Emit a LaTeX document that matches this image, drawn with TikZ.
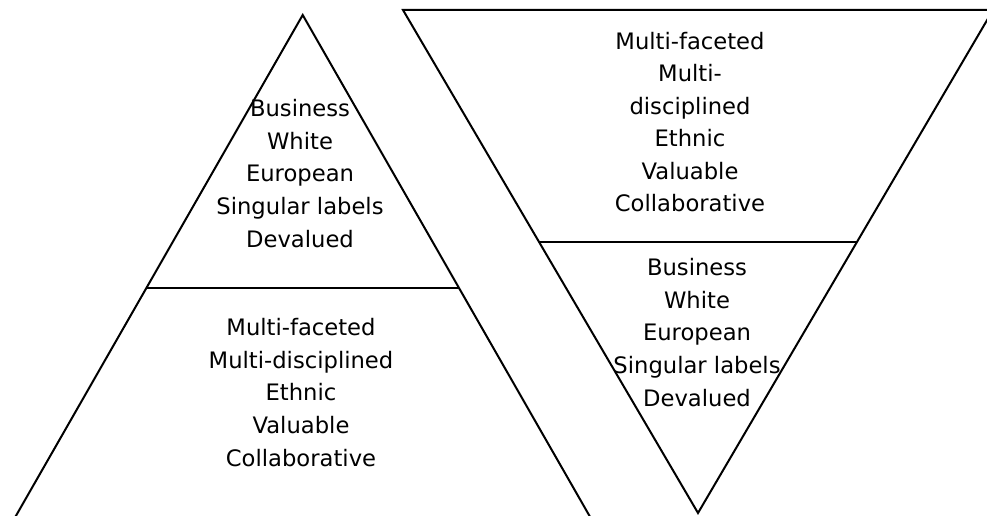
\documentclass[tikz,border=0pt]{standalone}
\usepackage{fontspec}
\setmainfont{DejaVu Sans}
\usetikzlibrary{calc}
\begin{document}
\begin{tikzpicture}[x=0.75pt, y=-0.75pt,
        edge/.style={line width=1.5pt, line join=miter},
        words/.style={align=center, inner sep=0pt, font=\fontsize{17}{24.4}\selectfont}]
    \useasboundingbox (0,0) rectangle (987,516);
    \clip (0,0) rectangle (987,516);
    % upright triangle, cut off at the bottom
    \coordinate (apexL) at (302.7,15);
    \coordinate (baseLL) at (-20.8,580);
    \coordinate (baseLR) at (626.2,580);
    \draw[edge] (apexL) -- (baseLL) -- (baseLR) -- cycle;
    \draw[edge] ($(apexL)!0.4832!(baseLL)$) -- ($(apexL)!0.4832!(baseLR)$);
    % upside-down triangle
    \coordinate (apexR) at (698,513);
    \coordinate (topRL) at (403,10);
    \coordinate (topRR) at (993,10);
    \draw[edge] (apexR) -- (topRL) -- (topRR) -- cycle;
    \draw[edge, line width=2.2pt] (topRL) -- (topRR);
    \draw[edge] ($(apexR)!0.5388!(topRL)$) -- ($(apexR)!0.5388!(topRR)$);
    \node[words] (leftTop) at (300,173.5) {Business\\White\\European\\Singular labels\\Devalued};
    \node[words] (leftBottom) at (301,392.5) {Multi-faceted\\Multi-disciplined\\Ethnic\\Valuable\\Collaborative};
    \node[words] (rightTop) at (690,122) {Multi-faceted\\Multi-\\disciplined\\Ethnic\\Valuable\\Collaborative};
    \node[words] (rightBottom) at (697,332.5) {Business\\White\\European\\Singular labels\\Devalued};
\end{tikzpicture}
\end{document}
